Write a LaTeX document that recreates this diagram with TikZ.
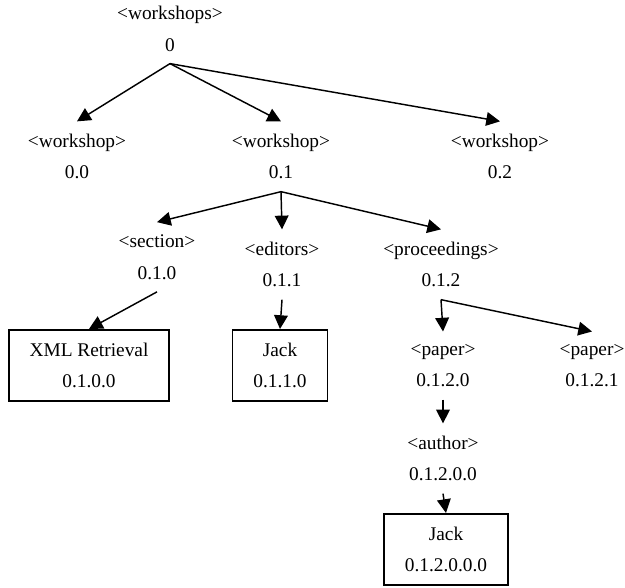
\documentclass[tikz,border=0pt,12pt]{standalone}
\usepackage{fontspec}
\setmainfont{Liberation Serif}
\usetikzlibrary{arrows.meta,positioning}

\begin{document}
\begin{tikzpicture}[x=0.62pt, y=-0.62pt, font=\fontsize{12}{19.7}\selectfont, lbl/.style={align=center, inner xsep=2pt, inner ysep=7.5pt}, box/.style={draw, line width=1.1pt, align=center, inner xsep=13pt, inner ysep=8pt}, arr/.style={-{Triangle[length=8.5pt,width=8.5pt]}, line width=0.9pt}]
\useasboundingbox (0,0) rectangle (625,587);
\node[lbl] (ws) at (170,28.5) {<workshops>\\0};
\node[lbl] (ws0) at (77,156.5) {<workshop>\\0.0};
\node[lbl] (ws1) at (281,156.5) {<workshop>\\0.1};
\node[lbl] (ws2) at (500,156.5) {<workshop>\\0.2};
\node[lbl] (sec) at (157,257) {<section>\\0.1.0};
\node[lbl] (edi) at (282,264.5) {<editors>\\0.1.1};
\node[lbl] (pro) at (441,264.5) {<proceedings>\\0.1.2};
\node[box] (xml) at (89,365.5) {XML Retrieval\\0.1.0.0};
\node[box] (jack) at (280,365.5) {Jack\\0.1.1.0};
\node[lbl] (pap0) at (443,365.5) {<paper>\\0.1.2.0};
\node[lbl] (pap1) at (592,365.5) {<paper>\\0.1.2.1};
\node[lbl] (aut) at (443,458.5) {<author>\\0.1.2.0.0};
\node[box] (jackb) at (446,549.5) {Jack\\0.1.2.0.0.0};
\draw[arr] (ws.south) -- (ws0.north);
\draw[arr] (ws.south) -- (ws1.north);
\draw[arr] (ws.south) -- (ws2.north);
\draw[arr] (ws1.south) -- (sec.north);
\draw[arr] (ws1.south) -- (edi.north);
\draw[arr] (ws1.south) -- (pro.north);
\draw[arr] (sec.south) -- (xml.north);
\draw[arr] (edi.south) -- (jack.north);
\draw[arr] (pro.south) -- (pap0.north);
\draw[arr] (pro.south) -- (pap1.north);
\draw[arr] (pap0.south) -- (aut.north);
\draw[arr] (aut.south) -- (jackb.north);
\end{tikzpicture}
\end{document}
